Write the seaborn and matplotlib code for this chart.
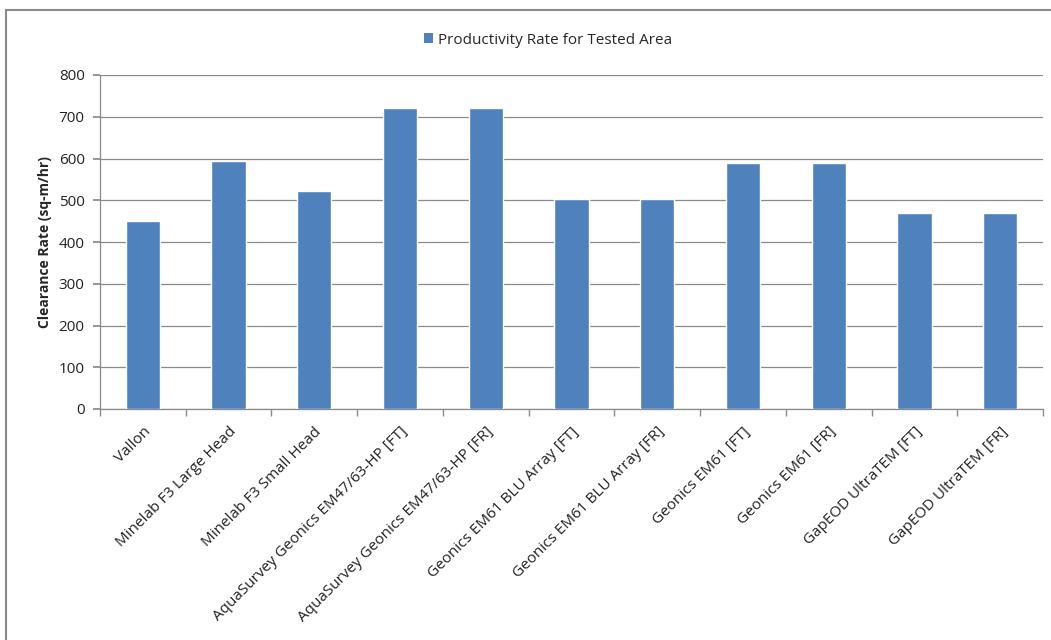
import matplotlib
matplotlib.use("Agg")
import matplotlib.pyplot as plt
from matplotlib.patches import Rectangle, Patch
import seaborn as sns
import pandas as pd
import numpy as np

systems = [
    "Vallon",
    "Minelab F3 Large Head",
    "Minelab F3 Small Head",
    "AquaSurvey Geonics EM47/63-HP [FT]",
    "AquaSurvey Geonics EM47/63-HP [FR]",
    "Geonics EM61 BLU Array [FT]",
    "Geonics EM61 BLU Array [FR]",
    "Geonics EM61 [FT]",
    "Geonics EM61 [FR]",
    "GapEOD UltraTEM [FT]",
    "GapEOD UltraTEM [FR]",
]
clearance_rate = [450, 594, 521, 720, 720, 502, 502, 590, 590, 470, 470]
y_ticks = [0, 100, 200, 300, 400, 500, 600, 700, 800]
series_name = "Productivity Rate for Tested Area"

df = pd.DataFrame({"system": systems, "rate": clearance_rate})

sns.set_theme(style="white")
plt.rcParams["font.family"] = ["Open Sans", "DejaVu Sans"]

fig = plt.figure(figsize=(10.51, 6.40), dpi=100)
ax = fig.add_axes([100 / 1051, 1 - 409 / 640, 943 / 1051, 334 / 640])

bar_color = "#4F81BD"
sns.barplot(data=df, x="system", y="rate", color=bar_color, width=0.4,
            saturation=1, ax=ax, zorder=3)

ax.set_ylim(0, 800)
ax.set_xlim(-0.5, len(systems) - 0.5)
ax.set_yticks(y_ticks)
ax.set_yticklabels([str(v) for v in y_ticks], fontsize=11, color="#222222")
ax.yaxis.grid(True, color="#8a8a8a", linewidth=0.9, zorder=0)
ax.set_axisbelow(True)

ax.set_xticks(range(len(systems)))
ax.set_xticklabels(systems, rotation=45, ha="right", rotation_mode="anchor",
                   fontsize=11, color="#222222")
ax.tick_params(axis="x", which="major", length=0, pad=11)
ax.set_xticks(np.arange(-0.5, len(systems), 1.0), minor=True)
ax.tick_params(axis="x", which="minor", length=5, color="#8a8a8a", direction="out",
               bottom=True)
ax.tick_params(axis="y", length=5, color="#8a8a8a", direction="out", left=True, pad=6)

ax.set_xlabel("")
ax.set_ylabel("Clearance Rate (sq-m/hr)", fontsize=10, fontweight="bold", labelpad=5)

for side in ["top", "right"]:
    ax.spines[side].set_visible(False)
for side in ["left", "bottom"]:
    ax.spines[side].set_color("#8a8a8a")
    ax.spines[side].set_linewidth(0.9)

handle = Patch(facecolor=bar_color, edgecolor="none", label=series_name)
fig.legend(handles=[handle], loc="center", bbox_to_anchor=(548 / 1051, 1 - 40 / 640),
           frameon=False, fontsize=11, handlelength=0.6, handleheight=0.6,
           handletextpad=0.3)

# chart area border
fig.patches.append(Rectangle((6 / 1051, -0.05), 1.2, 1 - 10 / 640 + 0.05,
                             transform=fig.transFigure, fill=False,
                             edgecolor="#8a8a8a", linewidth=1.5))

fig.savefig("out.png", dpi=100, facecolor="white")
